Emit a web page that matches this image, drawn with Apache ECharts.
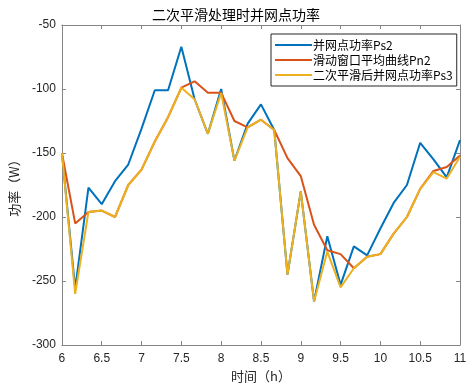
<!DOCTYPE html>
<html>
<head>
<meta charset="utf-8">
<script src="https://cdn.jsdelivr.net/npm/echarts@6/dist/echarts.min.js"></script>
<style>
  html, body { margin: 0; padding: 0; background: #fff; }
  #chart { width: 472px; height: 389px; }
</style>
</head>
<body>
<div id="chart"></div>
<script>
// time (h), one point every 10 minutes
var times = [6, 6.1667, 6.3333, 6.5, 6.6667, 6.8333, 7, 7.1667, 7.3333, 7.5, 7.6667,
  7.8333, 8, 8.1667, 8.3333, 8.5, 8.6667, 8.8333, 9, 9.1667, 9.3333,
  9.5, 9.6667, 9.8333, 10, 10.1667, 10.3333, 10.5, 10.6667, 10.8333, 11];

var ps2 = [-150, -256, -177, -190, -172, -159, -131, -101, -101, -67, -108,
  -135, -100, -156, -127, -112, -132, -245, -180, -266, -215,
  -253, -223, -230, -209, -189, -175, -142, -155, -169, -140];

var pn2 = [-150, -205, -196, -195, -200, -175, -163, -141, -122, -99, -94,
  -103, -103, -125, -130, -124, -132, -154, -168, -206, -226,
  -229, -240, -231, -229, -213, -200, -178, -164, -161, -152];

var ps3 = [-150, -260, -196, -195, -200, -175, -163, -141, -122, -99, -108,
  -135, -103, -156, -130, -124, -132, -245, -180, -266, -227,
  -255, -240, -231, -229, -213, -200, -178, -165, -170, -153];

var names = ['并网点功率Ps2', '滑动窗口平均曲线Pn2', '二次平滑后并网点功率Ps3'];
var colors = ['#0072BD', '#D95319', '#EDB120'];

function pairs(arr) {
  return arr.map(function (v, i) { return [times[i], v]; });
}

var axisCol = '#858585';
var labelStyle = { color: '#262626', fontSize: 12, fontFamily: 'Liberation Sans, Arial, sans-serif' };
var cjk = 'Noto Sans CJK SC';

var chart = echarts.init(document.getElementById('chart'));
var option = {
  animation: false,
  backgroundColor: '#fff',
  title: {
    text: '二次平滑处理时并网点功率',
    left: 'center',
    top: 3,
    textStyle: { fontFamily: cjk, fontSize: 14, fontWeight: 'normal', color: '#000' }
  },
  legend: {
    data: names,
    orient: 'vertical',
    left: 271,
    top: 34,
    padding: [5, 4, 5, 4],
    itemGap: 3,
    itemWidth: 37,
    itemHeight: 2,
    icon: 'rect',
    backgroundColor: '#fff',
    borderColor: '#262626',
    borderWidth: 1,
    borderRadius: 0,
    textStyle: { fontFamily: cjk, fontSize: 12, lineHeight: 12, color: '#000', padding: [0, 0, 0, -4] }
  },
  grid: { left: 55, right: 12, top: 25, bottom: 44 },
  xAxis: [
    {
      type: 'value', min: 6, max: 11, interval: 0.5,
      name: '时间（h）', nameLocation: 'middle', nameGap: 24,
      nameTextStyle: { fontFamily: cjk, fontSize: 13, color: '#262626' },
      axisLine: { lineStyle: { color: axisCol } },
      axisTick: { inside: true, length: 4, lineStyle: { color: axisCol } },
      axisLabel: Object.assign({ margin: 8 }, labelStyle),
      splitLine: { show: false }
    },
    {
      type: 'value', min: 6, max: 11, interval: 0.5, position: 'top',
      axisLine: { show: true, lineStyle: { color: axisCol } },
      axisTick: { inside: true, length: 4, lineStyle: { color: axisCol } },
      axisLabel: { show: false },
      splitLine: { show: false }
    }
  ],
  yAxis: [
    {
      type: 'value', min: -300, max: -50, interval: 50,
      name: '功率（W）', nameLocation: 'middle', nameGap: 35,
      nameTextStyle: { fontFamily: cjk, fontSize: 13, color: '#262626' },
      axisLine: { show: true, lineStyle: { color: axisCol } },
      axisTick: { show: true, inside: true, length: 4, lineStyle: { color: axisCol } },
      axisLabel: Object.assign({ margin: 6 }, labelStyle),
      splitLine: { show: false }
    },
    {
      type: 'value', min: -300, max: -50, interval: 50, position: 'right',
      axisLine: { show: true, lineStyle: { color: axisCol } },
      axisTick: { show: true, inside: true, length: 4, lineStyle: { color: axisCol } },
      axisLabel: { show: false },
      splitLine: { show: false }
    }
  ],
  series: [ps2, pn2, ps3].map(function (arr, k) {
    return {
      name: names[k],
      type: 'line',
      symbol: 'none',
      data: pairs(arr),
      color: colors[k],
      lineStyle: { color: colors[k], width: 2 },
      z: 2 + k
    };
  })
};
chart.setOption(option);
</script>
</body>
</html>
